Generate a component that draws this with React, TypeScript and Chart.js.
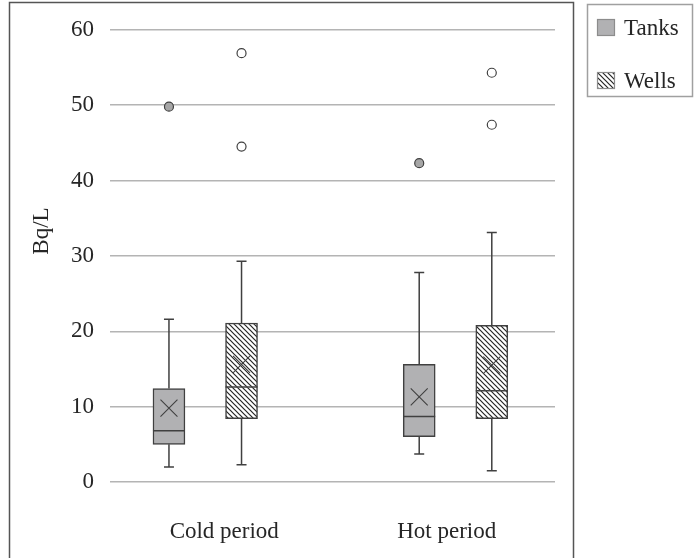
import { useEffect, useRef } from 'react';
import { Chart, registerables } from 'chart.js';

Chart.register(...registerables);

// ---------- data ----------
const categories = ['Cold period', 'Hot period'];
const seriesNames = ['Tanks', 'Wells'];
const yTicks = [0, 10, 20, 30, 40, 50, 60];

const tanksMin = [2.0, 3.7];
const tanksQ1 = [5.0, 6.0];
const tanksMedian = [6.8, 8.7];
const tanksQ3 = [12.4, 15.6];
const tanksMax = [21.6, 27.8];
const tanksMean = [9.8, 11.3];
const tanksOutliers = [[49.8], [42.3]];

const wellsMin = [2.3, 1.5];
const wellsQ1 = [8.4, 8.4];
const wellsMedian = [12.6, 12.1];
const wellsQ3 = [21.1, 20.8];
const wellsMax = [29.3, 33.1];
const wellsMean = [15.6, 15.5];
const wellsOutliers = [[56.9, 44.5], [54.3, 47.4]];

const yTitle = 'Bq/L';

// ---------- style ----------
const FONT = '"Liberation Serif", "Times New Roman", serif';
const FS = 23;
const TEXT = '#262626';
const LINE = '#404040';
const SERIES_OFFSET = [-0.145, 0.145];

function makeHatch(): CanvasPattern {
  const s = 5;
  const c = document.createElement('canvas');
  c.width = s;
  c.height = s;
  const g = c.getContext('2d') as CanvasRenderingContext2D;
  g.fillStyle = '#ffffff';
  g.fillRect(0, 0, s, s);
  g.strokeStyle = '#262626';
  g.lineWidth = 1.2;
  g.beginPath();
  g.moveTo(-1, -1);
  g.lineTo(s + 1, s + 1);
  g.moveTo(-1, s - 1);
  g.lineTo(1, s + 1);
  g.moveTo(s - 1, -1);
  g.lineTo(s + 1, 1);
  g.stroke();
  return g.createPattern(c, 'repeat') as CanvasPattern;
}

export default function App() {
  const ref = useRef<HTMLCanvasElement | null>(null);

  useEffect(() => {
    if (!ref.current) return;
    const hatch = makeHatch();
    const series = [
      {
        name: seriesNames[0], min: tanksMin, q1: tanksQ1, med: tanksMedian, q3: tanksQ3,
        max: tanksMax, mean: tanksMean, out: tanksOutliers, fill: '#b1b1b3' as any,
        outFill: '#a6a6a6', swatchBorder: '#8c8c8c',
      },
      {
        name: seriesNames[1], min: wellsMin, q1: wellsQ1, med: wellsMedian, q3: wellsQ3,
        max: wellsMax, mean: wellsMean, out: wellsOutliers, fill: hatch as any,
        outFill: '#ffffff', swatchBorder: '#8c8c8c',
      },
    ];

    const barSets = series.map((s, si) => ({
      type: 'bar' as const,
      label: s.name,
      xAxisID: 'xb',
      data: categories.map((_, j) => ({ x: j + SERIES_OFFSET[si], y: [s.q1[j], s.q3[j]] })),
      backgroundColor: s.fill,
      borderColor: LINE,
      borderWidth: 1.5,
      borderSkipped: false,
      barThickness: 32,
      grouped: false,
      order: 3,
    }));

    const meanSets = series.map((s, si) => ({
      type: 'scatter' as const,
      label: s.name + ' mean',
      xAxisID: 'xb',
      data: categories.map((_, j) => ({ x: j + SERIES_OFFSET[si], y: s.mean[j] })),
      pointStyle: 'crossRot',
      pointRadius: 12,
      borderColor: LINE,
      borderWidth: 1.1,
      backgroundColor: LINE,
      order: 1,
    }));

    const outSets = series.map((s, si) => ({
      type: 'scatter' as const,
      label: s.name + ' outliers',
      xAxisID: 'xb',
      data: categories.flatMap((_, j) => s.out[j].map((v) => ({ x: j + SERIES_OFFSET[si], y: v }))),
      pointStyle: 'circle',
      pointRadius: 4.5,
      borderColor: LINE,
      borderWidth: 1.2,
      backgroundColor: s.outFill,
      order: 1,
    }));

    const boxPlugin = {
      id: 'boxParts',
      afterDatasetsDraw(chart: any) {
        const ctx = chart.ctx as CanvasRenderingContext2D;
        const y = chart.scales.y;
        ctx.save();
        ctx.strokeStyle = LINE;
        ctx.lineWidth = 1.5;
        series.forEach((s, si) => {
          const meta = chart.getDatasetMeta(si);
          meta.data.forEach((bar: any, j: number) => {
            const x = bar.x;
            const w = bar.width;
            const ym = y.getPixelForValue(s.med[j]);
            const yq1 = y.getPixelForValue(s.q1[j]);
            const yq3 = y.getPixelForValue(s.q3[j]);
            const ymin = y.getPixelForValue(s.min[j]);
            const ymax = y.getPixelForValue(s.max[j]);
            ctx.beginPath();
            ctx.moveTo(x - w / 2, ym);
            ctx.lineTo(x + w / 2, ym);
            ctx.moveTo(x, yq3);
            ctx.lineTo(x, ymax);
            ctx.moveTo(x - 5, ymax);
            ctx.lineTo(x + 5, ymax);
            ctx.moveTo(x, yq1);
            ctx.lineTo(x, ymin);
            ctx.moveTo(x - 5, ymin);
            ctx.lineTo(x + 5, ymin);
            ctx.stroke();
          });
        });
        ctx.restore();
      },
      afterDraw(chart: any) {
        const ctx = chart.ctx as CanvasRenderingContext2D;
        ctx.save();
        // outer frame
        ctx.strokeStyle = '#555555';
        ctx.lineWidth = 1.5;
        ctx.beginPath();
        ctx.moveTo(9.5, 570);
        ctx.lineTo(9.5, 2.5);
        ctx.lineTo(573.5, 2.5);
        ctx.lineTo(573.5, 570);
        ctx.stroke();
        // y title
        ctx.fillStyle = TEXT;
        ctx.font = `${FS}px ${FONT}`;
        ctx.textAlign = 'center';
        ctx.textBaseline = 'middle';
        ctx.translate(42, 231);
        ctx.rotate(-Math.PI / 2);
        ctx.fillText(yTitle, 0, 0);
        ctx.setTransform(1, 0, 0, 1, 0, 0);
        // legend
        ctx.strokeStyle = '#a0a0a0';
        ctx.lineWidth = 1.5;
        ctx.strokeRect(587.5, 4.5, 105, 92);
        const rows = [28, 81];
        series.forEach((s, si) => {
          const cy = rows[si];
          ctx.fillStyle = s.fill;
          ctx.fillRect(597, cy - 9, 18, 17);
          ctx.strokeStyle = s.swatchBorder;
          ctx.lineWidth = 1.2;
          ctx.strokeRect(597.5, cy - 8.5, 17, 16);
          ctx.fillStyle = TEXT;
          ctx.textAlign = 'left';
          ctx.textBaseline = 'middle';
          ctx.font = `${FS}px ${FONT}`;
          ctx.fillText(s.name, 624, cy + 1);
        });
        ctx.restore();
      },
    };

    const chart = new Chart(ref.current, {
      type: 'bar',
      data: {
        labels: categories,
        datasets: [...barSets, ...meanSets, ...outSets] as any,
      },
      options: {
        animation: false,
        responsive: false,
        devicePixelRatio: 1,
        layout: { padding: { left: 0, right: 139, top: 29, bottom: 0 } },
        plugins: { legend: { display: false }, tooltip: { enabled: false } },
        scales: {
          x: {
            type: 'category',
            labels: categories,
            position: 'bottom',
            offset: true,
            grid: { display: false, drawTicks: false },
            border: { display: false },
            ticks: { font: { family: FONT, size: FS }, color: TEXT, padding: 36, maxRotation: 0, labelOffset: 3 },
            afterFit: (s: any) => { s.height = 76; },
          },
          xb: {
            type: 'linear',
            display: false,
            offset: false,
            min: -0.3806,
            max: 1.3976,
          },
          y: {
            type: 'linear',
            min: 0,
            max: 60,
            afterBuildTicks: (s: any) => { s.ticks = yTicks.map((v) => ({ value: v })); },
            grid: { color: '#b4b4b4', lineWidth: 1.5, drawTicks: false },
            border: { display: false },
            ticks: { font: { family: FONT, size: FS }, color: TEXT, padding: 16 },
            afterFit: (s: any) => { s.width = 110; },
          },
        } as any,
      },
      plugins: [boxPlugin],
    });
    return () => chart.destroy();
  }, []);

  return (
    <div style={{ position: 'absolute', left: 0, top: 0, width: 694, height: 558 }}>
      <canvas ref={ref} width={694} height={558} style={{ display: 'block' }} />
    </div>
  );
}
